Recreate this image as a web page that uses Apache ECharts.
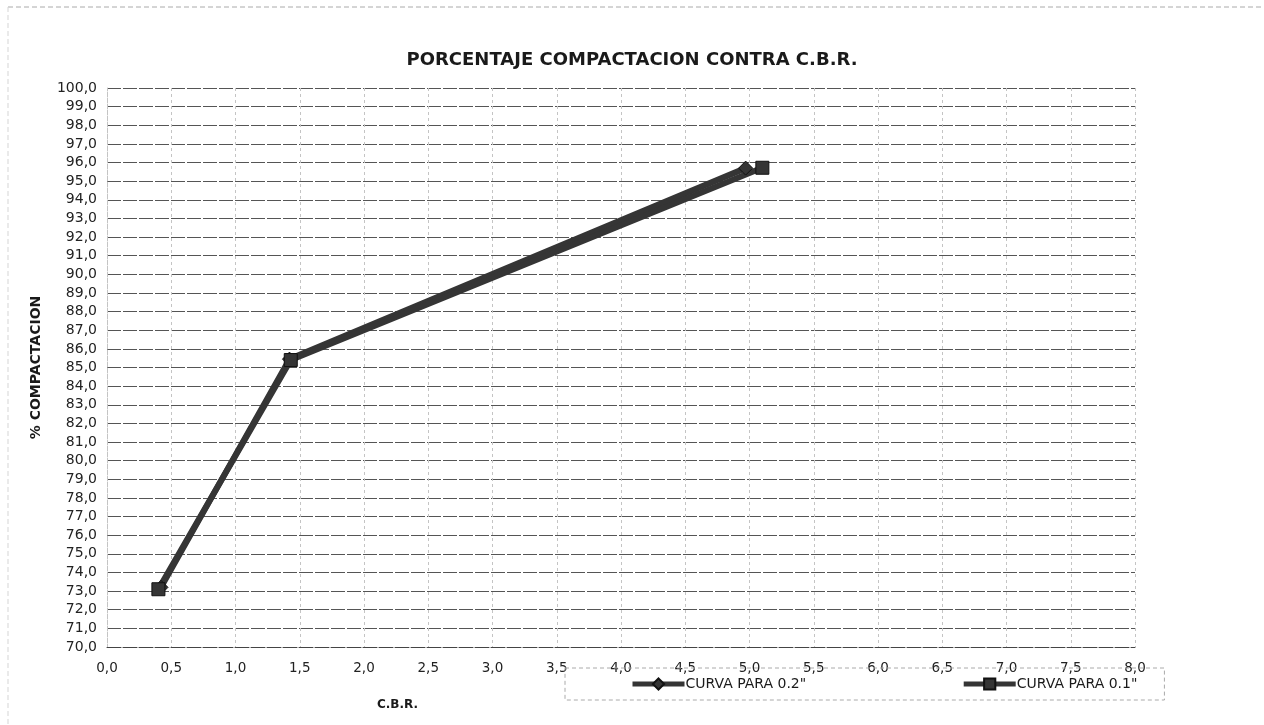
<!DOCTYPE html>
<html>
<head>
<meta charset="utf-8">
<script src="https://cdn.jsdelivr.net/npm/echarts@6/dist/echarts.min.js"></script>
<style>
html,body{margin:0;padding:0;background:#fff;}
#chart{width:1264px;height:725px;}
</style>
</head>
<body>
<div id="chart"></div>
<script>
// Data
var titleText = 'PORCENTAJE COMPACTACION CONTRA C.B.R.';
var xAxisTitle = 'C.B.R.';
var yAxisTitle = '% COMPACTACION';
var seriesNames = ['CURVA PARA 0.2"', 'CURVA PARA 0.1"'];
var cbr02 = [0.42, 1.42, 4.97];
var comp02 = [73.2, 85.45, 95.7];
var cbr01 = [0.40, 1.43, 5.10];
var comp01 = [73.1, 85.4, 95.72];

function pairs(xs, ys){ return xs.map(function(x,i){ return [x, ys[i]]; }); }
function fmt(v){ return v.toFixed(1).replace('.', ','); }

var FONT = 'DejaVu Sans';
var chart = echarts.init(document.getElementById('chart'), null, {renderer:'canvas'});
chart.setOption({
  animation: false,
  backgroundColor: '#ffffff',
  title: {
    text: titleText,
    left: 'center',
    top: 46,
    textStyle: {fontFamily: FONT, fontSize: 18, fontWeight: 'bold', color: '#1a1a1a'}
  },
  grid: {left: 107, right: 129, top: 88, bottom: 78, containLabel: false},
  xAxis: {
    type: 'value', min: 0, max: 8, interval: 0.5,
    axisLine: {show: true, lineStyle: {color: '#444', width: 1, type: [14, 2]}},
    axisTick: {show: false},
    axisLabel: {formatter: fmt, fontFamily: FONT, fontSize: 13.5, color: '#222', margin: 14},
    splitLine: {show: true, lineStyle: {color: '#c4c4c4', width: 1, type: [3, 3]}}
  },
  yAxis: {
    type: 'value', min: 70, max: 100, interval: 1,
    name: yAxisTitle, nameLocation: 'middle', nameGap: 64, nameRotate: 90,
    nameTextStyle: {fontFamily: FONT, fontSize: 14, fontWeight: 'bold', color: '#1a1a1a'},
    axisLine: {show: true, lineStyle: {color: '#c4c4c4', width: 1, type: [3, 3]}},
    axisTick: {show: false},
    axisLabel: {formatter: fmt, fontFamily: FONT, fontSize: 14, color: '#222', margin: 10},
    splitLine: {show: true, lineStyle: {color: '#555', width: 1, type: [14, 2]}}
  },
  legend: {
    left: 565, top: 668,
    padding: [9, 27, 9, 65],
    itemGap: 155,
    itemWidth: 52, itemHeight: 14,
    borderColor: '#aaa', borderWidth: 1, borderType: [4, 3],
    lineStyle: {width: 5, color: '#353535'},
    textStyle: {fontFamily: FONT, fontSize: 14, color: '#1a1a1a', padding: [0,0,0,-4]},
    data: seriesNames
  },
  graphic: [
    {type: 'line', shape: {x1: 8, y1: 7, x2: 1264, y2: 7}, style: {stroke: '#aaa', lineWidth: 1, lineDash: [5, 3]}},
    {type: 'line', shape: {x1: 8, y1: 7, x2: 8, y2: 725}, style: {stroke: '#d5d5d5', lineWidth: 1, lineDash: [5, 3]}},
    {type: 'text', left: 377, top: 699, style: {text: xAxisTitle, font: 'bold 12px "DejaVu Sans"', fill: '#1a1a1a'}}
  ],
  series: [
    {
      name: seriesNames[0], type: 'line', data: pairs(cbr02, comp02),
      symbol: 'diamond', symbolSize: 14,
      lineStyle: {color: '#353535', width: 6},
      itemStyle: {color: '#353535', borderColor: '#111', borderWidth: 1}
    },
    {
      name: seriesNames[1], type: 'line', data: pairs(cbr01, comp01),
      symbol: 'rect', symbolSize: 13,
      lineStyle: {color: '#353535', width: 6},
      itemStyle: {color: '#353535', borderColor: '#111', borderWidth: 1}
    }
  ]
});
</script>
</body>
</html>
